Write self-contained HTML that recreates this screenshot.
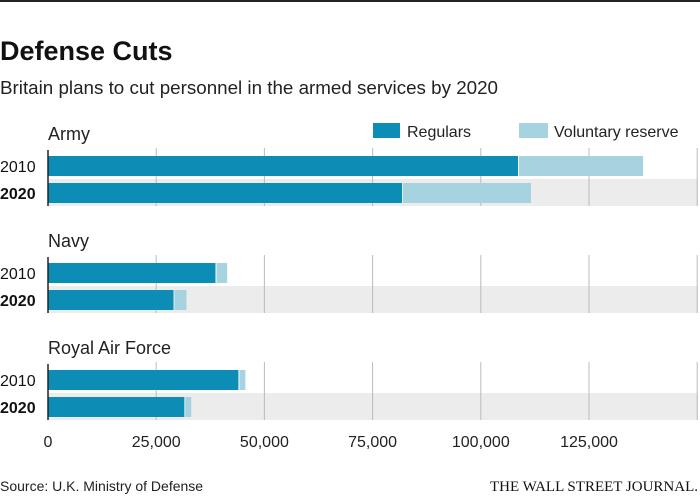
<!DOCTYPE html>
<html><head><meta charset="utf-8"><style>
body{margin:0;background:#fff;font-family:"Liberation Sans",sans-serif;}
svg{display:block}
</style></head><body>
<svg width="700" height="497">
<rect x="0" y="0" width="700" height="2" fill="#222"/>
<text x="0" y="60" font-size="27" font-weight="bold" fill="#111">Defense Cuts</text>
<text x="0" y="94" font-size="18.8" fill="#222">Britain plans to cut personnel in the armed services by 2020</text>
<rect x="373" y="123" width="27" height="15" fill="#0b8db5"/>
<text x="407" y="137" font-size="16" fill="#222">Regulars</text>
<rect x="519" y="123" width="29" height="15" fill="#a7d3e1"/>
<text x="554" y="137" font-size="16" fill="#222">Voluntary reserve</text>
<g id="plot"></g>
<text x="0" y="491" font-size="14" fill="#222">Source: U.K. Ministry of Defense</text>
<text x="698" y="491" font-size="15" text-anchor="end" font-family="Liberation Serif, serif" fill="#111">THE WALL STREET JOURNAL.</text>
</svg>
<script>
const groups=["Army","Navy","Royal Air Force"];
const years=["2010","2020"];
const regulars=[[108600,81800],[38700,29000],[44000,31500]];
const reserves=[[28900,29800],[2700,3000],[1600,1600]];
const ticks=[0,25000,50000,75000,100000,125000,150000];
const tickLabels=["0","25,000","50,000","75,000","100,000","125,000",""];
const NS="http://www.w3.org/2000/svg";
const g=document.getElementById('plot');
const x=v=>48+v*(108.2/25000);
function mk(t,a,p){const e=document.createElementNS(NS,t);for(const k in a)e.setAttribute(k,a[k]);(p||g).appendChild(e);return e;}
groups.forEach((name,gi)=>{
  const top=148+gi*107;
  const lab=mk('text',{x:48,y:top-8,'font-size':18,fill:'#222'});lab.textContent=name;
  
  
  const band=mk('rect',{x:48,y:top+31,width:650,height:27,fill:'#ececec'});
  
  
  ticks.forEach((t,i)=>{if(i===0)return;const l=mk('line',{x1:x(t),x2:x(t),y1:top,y2:top+58,stroke:'#bbb','stroke-width':1});
    
    });
  years.forEach((yr,yi)=>{
    const y=top+8+yi*27;
    const r=mk('rect',{x:x(0),y:y,width:x(regulars[gi][yi])-x(0),height:20,fill:'#0b8db5'});
    
    
    const s=mk('rect',{x:x(regulars[gi][yi])+1,y:y,width:x(reserves[gi][yi])-x(0)-1,height:20,fill:'#a7d3e1'});
    
    
    const yl=mk('text',{x:0,y:y+16,'font-size':16,fill:'#111','font-weight':yi?'bold':'normal'});yl.textContent=yr;
    
    
  });
  const ax=mk('line',{x1:48,x2:48,y1:top+2,y2:top+58,stroke:'#222','stroke-width':1.5});
  
  
});
ticks.forEach((t,i)=>{const tl=mk('text',{x:x(t),y:447,'font-size':16,fill:'#222','text-anchor':'middle'});tl.textContent=tickLabels[i];
  
  });
</script>
</body></html>
